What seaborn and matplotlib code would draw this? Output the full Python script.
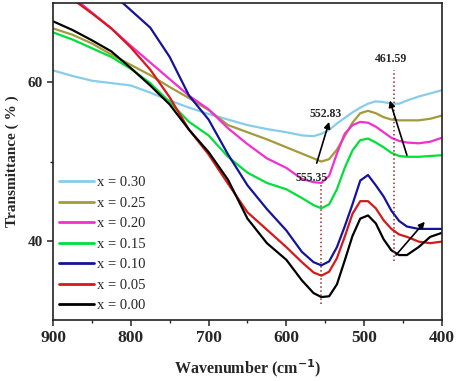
import numpy as np
import pandas as pd
import matplotlib.pyplot as plt
import seaborn as sns

# wavenumber grid (cm-1)
wavenumber = [900, 875, 850, 825, 800, 775, 750, 725, 700, 675, 650, 625, 600, 580, 565,
              555, 545, 535, 525, 515, 505, 495, 485, 475, 465, 455, 445, 430, 415, 400]

# transmittance (%) per composition
t_030 = [61.5, 60.8, 60.2, 59.9, 59.6, 58.7, 57.7, 56.8, 56.0, 55.3, 54.6, 54.1, 53.7, 53.3, 53.2,
         53.5, 54.0, 54.8, 55.5, 56.2, 56.8, 57.3, 57.6, 57.5, 57.3, 57.3, 57.7, 58.2, 58.6, 59.0]
t_025 = [66.8, 66.0, 64.9, 63.5, 62.2, 60.9, 59.4, 58.0, 56.5, 54.6, 53.7, 52.8, 51.8, 51.0, 50.4,
         50.0, 50.3, 51.5, 53.2, 54.9, 56.1, 56.4, 56.1, 55.6, 55.3, 55.2, 55.2, 55.2, 55.4, 55.8]
t_020 = [72.8, 70.8, 68.8, 66.8, 64.6, 62.5, 60.4, 58.3, 56.6, 54.2, 52.2, 50.4, 49.2, 47.8, 47.4,
         47.3, 48.2, 51.0, 53.5, 54.6, 55.0, 54.9, 54.4, 53.7, 53.0, 52.6, 52.4, 52.3, 52.5, 53.0]
t_015 = [66.3, 65.4, 64.3, 63.2, 61.7, 59.9, 57.5, 55.0, 53.3, 50.6, 48.6, 47.3, 46.5, 45.4, 44.5,
         44.1, 44.6, 46.5, 49.2, 51.4, 52.7, 52.9, 52.4, 51.8, 51.1, 50.7, 50.6, 50.6, 50.7, 50.8]
t_010 = [78.0, 75.8, 73.5, 71.3, 69.1, 66.9, 63.2, 58.3, 55.3, 50.9, 47.0, 44.0, 41.3, 38.6, 37.3,
         36.9, 37.4, 39.2, 41.8, 44.6, 47.6, 48.3, 47.0, 45.6, 43.8, 42.5, 41.8, 41.5, 41.5, 41.5]
t_005 = [72.4, 70.5, 68.7, 66.8, 64.4, 61.6, 58.1, 54.0, 50.9, 47.2, 43.6, 41.4, 39.2, 37.3, 36.0,
         35.6, 36.1, 37.8, 40.5, 43.4, 45.0, 45.0, 44.1, 42.6, 41.5, 40.8, 40.5, 39.9, 39.7, 39.9]
t_000 = [67.7, 66.6, 65.3, 63.9, 61.8, 59.6, 57.2, 54.0, 51.2, 47.7, 42.8, 39.7, 37.6, 35.0, 33.4,
         32.9, 33.0, 34.5, 37.5, 40.6, 42.8, 43.2, 42.2, 40.2, 38.8, 38.2, 38.2, 39.2, 40.5, 41.0]

labels = ["x = 0.30", "x = 0.25", "x = 0.20", "x = 0.15", "x = 0.10", "x = 0.05", "x = 0.00"]
colors = ["#87CDEA", "#A39A3C", "#F22FCF", "#00E03A", "#14149A", "#D81818", "#000000"]
series = [t_030, t_025, t_020, t_015, t_010, t_005, t_000]

df = pd.concat(
    [pd.DataFrame({"Wavenumber": wavenumber, "T": s, "sample": lab}) for s, lab in zip(series, labels)],
    ignore_index=True)

sns.set_style("ticks")
plt.rcParams["font.family"] = ["Liberation Serif", "DejaVu Serif"]

fig = plt.figure(figsize=(4.57, 3.81), dpi=100)
ax = fig.add_axes([0.116, 0.160, 0.851, 0.832])

sns.lineplot(data=df, x="Wavenumber", y="T", hue="sample", hue_order=labels,
             palette=colors, sort=False, estimator=None, linewidth=1.6, ax=ax)

ax.set_xlim(900, 400)
ax.set_ylim(30, 70)
ax.set_xticks([900, 800, 700, 600, 500, 400])
ax.set_xticks([850, 750, 650, 550, 450], minor=True)
ax.set_yticks([40, 60])
ax.set_yticks([50], minor=True)
ax.tick_params(axis="both", which="major", length=4, width=1.1, direction="out")
ax.tick_params(axis="both", which="minor", length=2.5, width=1.0, direction="out")
for lab in ax.get_xticklabels():
    lab.set_fontsize(12.5)
    lab.set_fontweight("bold")
for lab in ax.get_yticklabels():
    lab.set_fontsize(11)
    lab.set_fontweight("bold")
for sp in ax.spines.values():
    sp.set_visible(True)
    sp.set_linewidth(1.2)
    sp.set_color("#222222")

ax.set_xlabel("Wavenumber (cm$^{\\mathbf{-1}}$)", fontsize=11.5, fontweight="bold", labelpad=8)
ax.set_ylabel("Transmittance ( % )", fontsize=11, fontweight="bold", labelpad=6)

# peak markers
ax.vlines(555.35, 32.0, 47.0, colors="#A02828", linestyles=":", linewidth=1.1)
ax.vlines(461.59, 37.4, 61.5, colors="#A02828", linestyles=":", linewidth=1.1)

bold = dict(fontsize=8.5, fontweight="bold", ha="center", va="center")
ax.text(568, 47.9, "555.35", **bold)
ax.text(549, 56.0, "552.83", **bold)
ax.text(466, 63.0, "461.59", **bold)

arrow = dict(arrowstyle="-|>", color="black", lw=1.2, mutation_scale=9, shrinkA=0, shrinkB=0)
ax.annotate("", xy=(545, 55.0), xytext=(561, 49.8), arrowprops=arrow)
ax.annotate("", xy=(467, 57.7), xytext=(445, 50.8), arrowprops=arrow)
ax.annotate("", xy=(422, 42.4), xytext=(459, 38.2), arrowprops=arrow)

leg = ax.legend(loc="lower left", bbox_to_anchor=(0.012, 0.02), frameon=False,
                fontsize=10.5, handlelength=2.4, handletextpad=0.2, labelspacing=0.5,
                borderaxespad=0, borderpad=0.1)
for h in leg.get_lines():
    h.set_linewidth(2.0)

fig.savefig("out.png", dpi=100)
